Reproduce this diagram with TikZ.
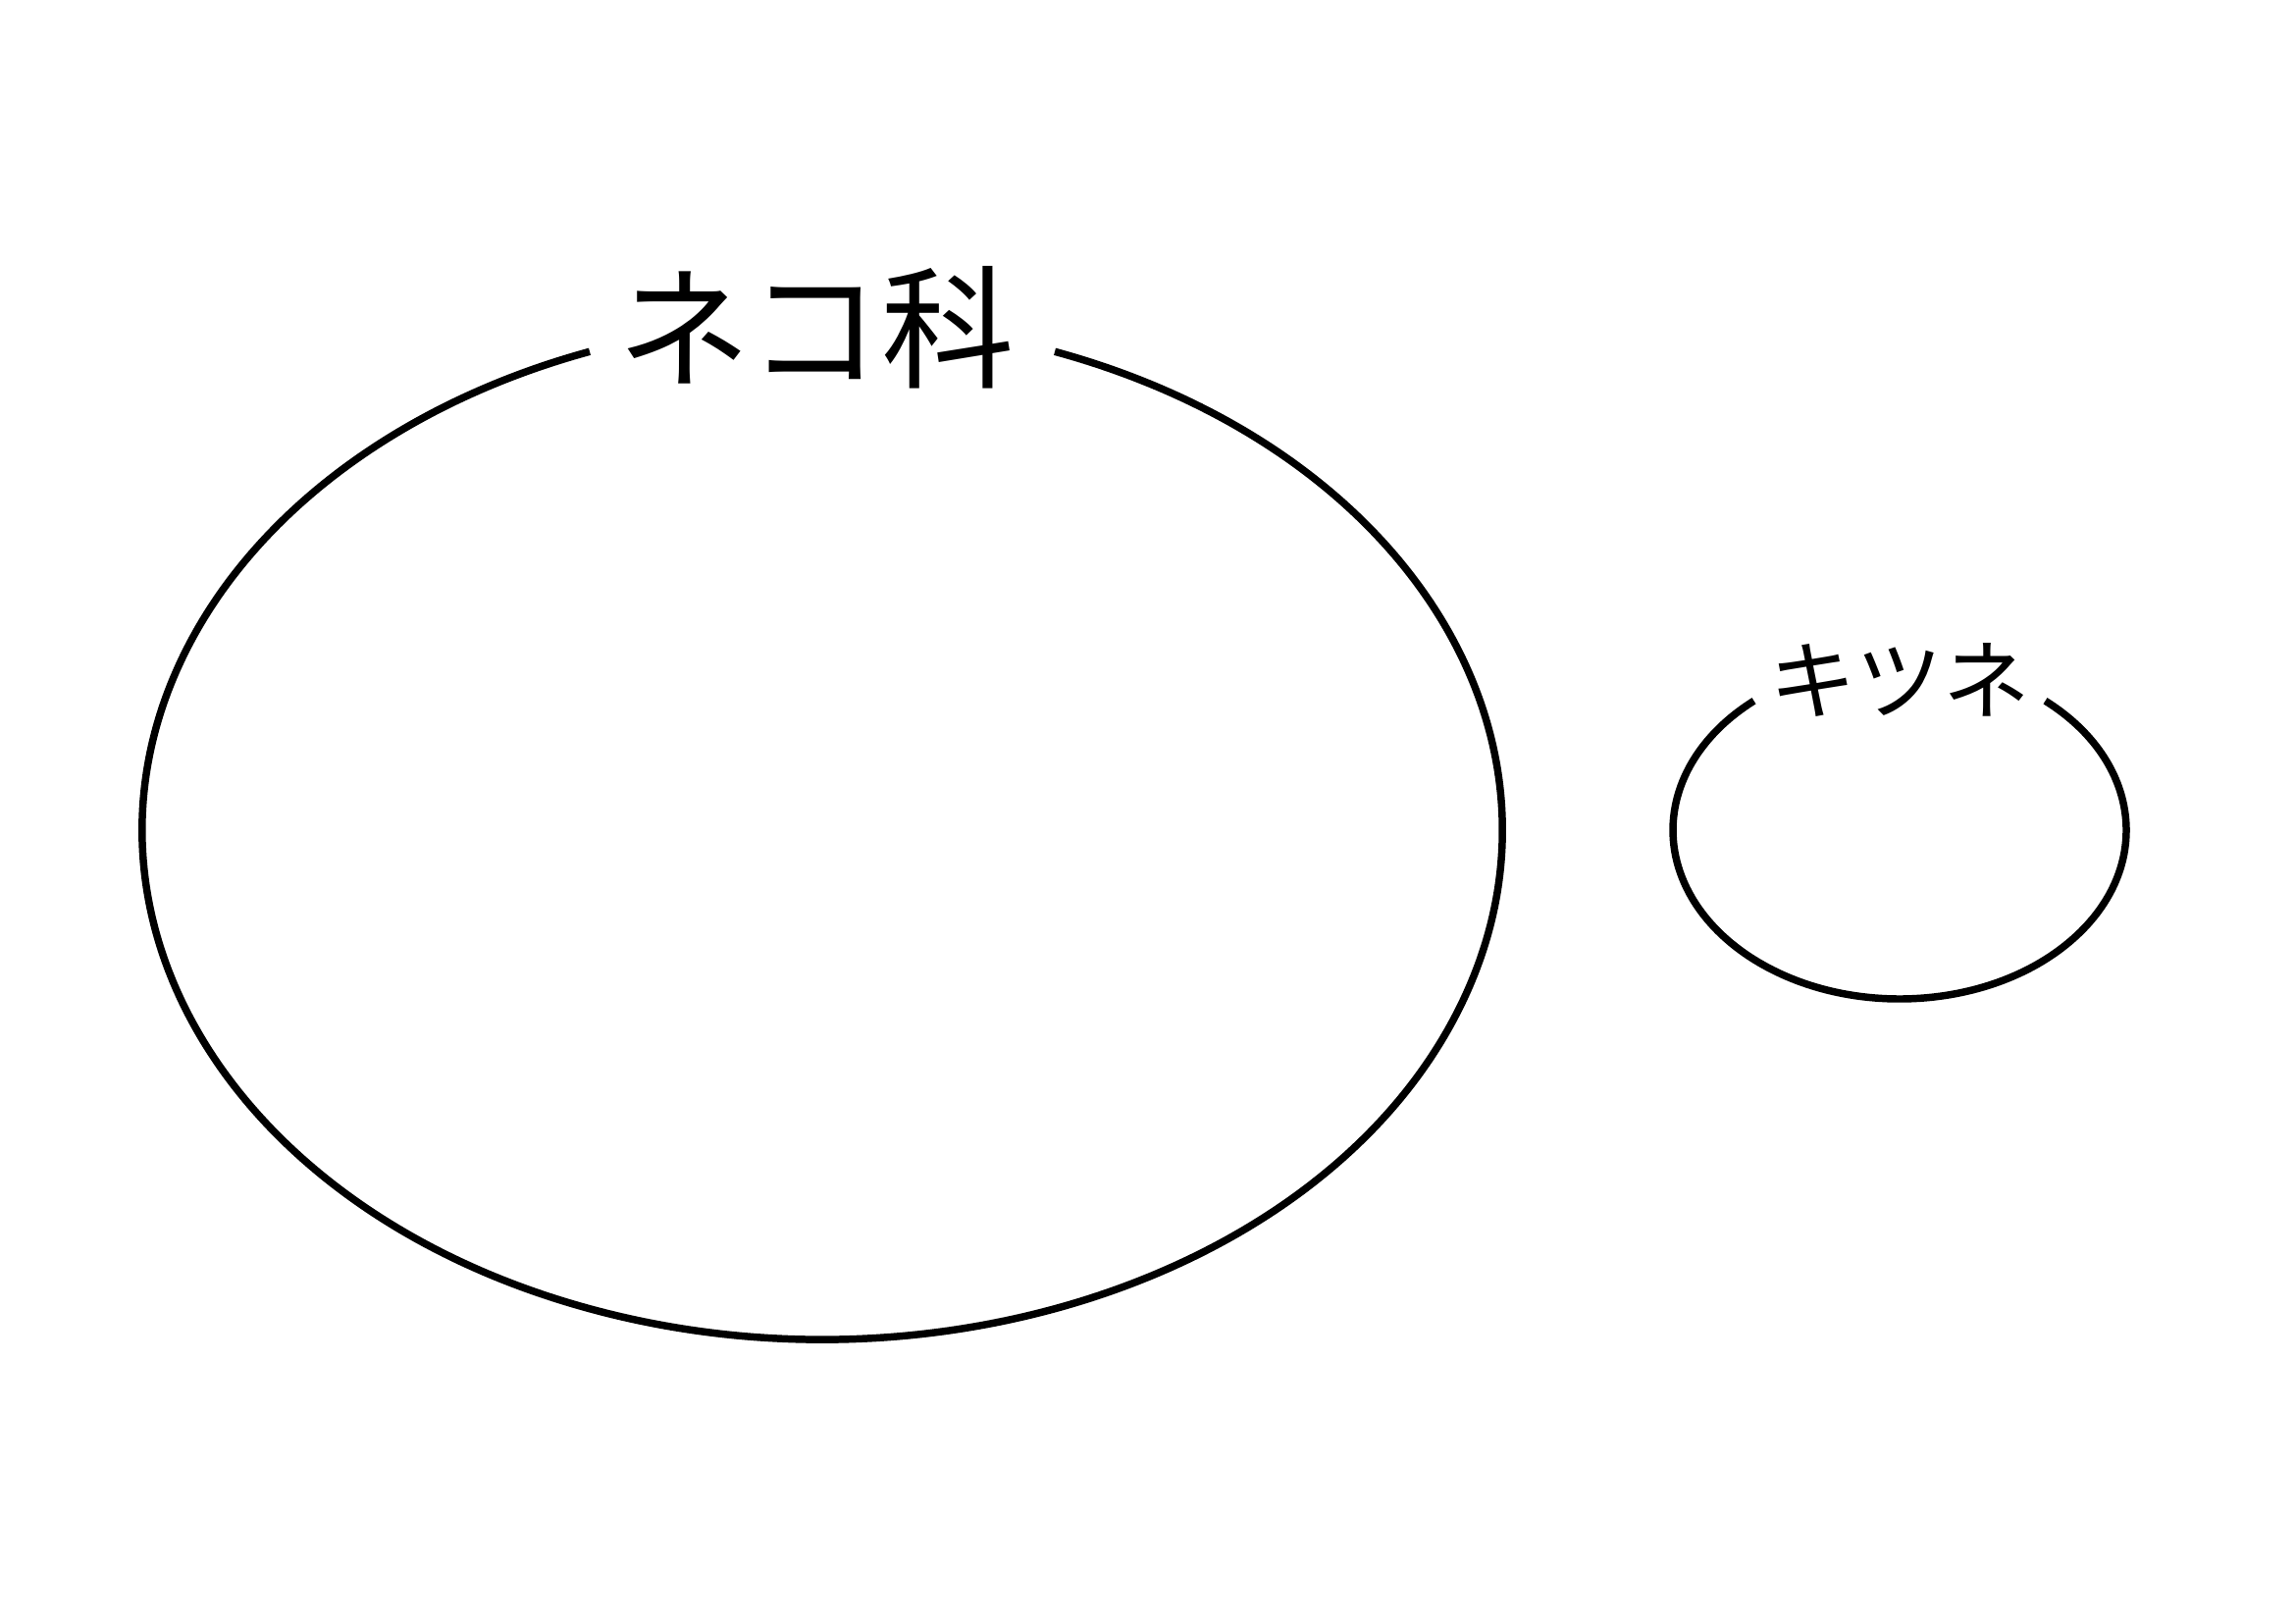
\documentclass[tikz,border=0pt]{standalone}
\usepackage{fontspec}
\newfontfamily\cjk{Noto Sans CJK JP}
\begin{document}
\begin{tikzpicture}[x=0.012698cm,y=-0.012698cm,
  setline/.style={line width=2.7pt,black},
  setlabel/.style={font=\cjk,inner sep=0pt,anchor=center}]
\useasboundingbox (0,0) rectangle (2339,1654);
% large set
\draw[setline] (838,846) ++(-70:693 and 519) arc[start angle=-70,end angle=250,x radius=693,y radius=519];
\node[setlabel,font=\cjk\fontsize{49pt}{49pt}\selectfont] (neko) at (832,334) {ネコ科};
% small set
\draw[setline] (1936,846) ++(-50:231 and 172) arc[start angle=-50,end angle=230,x radius=231,y radius=172];
\node[setlabel,font=\cjk\fontsize{32pt}{32pt}\selectfont] (kitsune) at (1936,693) {キツネ};
\end{tikzpicture}
\end{document}
